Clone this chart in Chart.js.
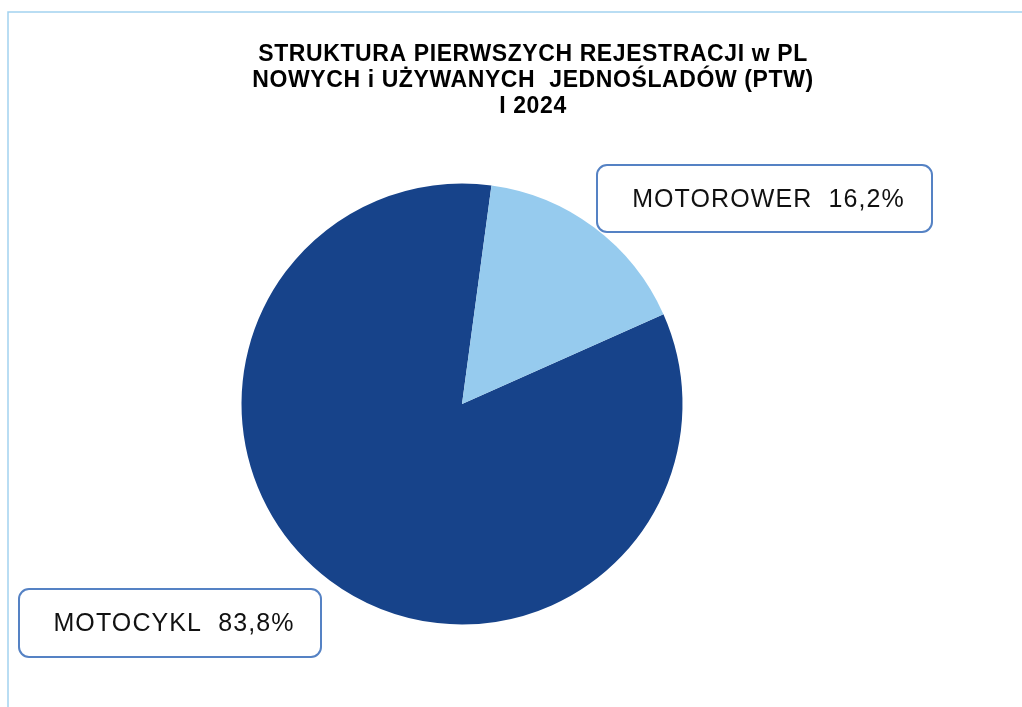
<!DOCTYPE html>
<html>
<head>
<meta charset="utf-8">
<script src="https://cdn.jsdelivr.net/npm/chart.js@4"></script>
<style>
  html, body { margin: 0; padding: 0; background: #fff; }
  #wrap { width: 1022px; height: 707px; }
</style>
</head>
<body>
<div id="wrap"><canvas id="pie"></canvas></div>
<script>
// data
var categories = ["MOTOCYKL", "MOTOROWER"];
var shares = [83.8, 16.2];
var titleLines = [
	"STRUKTURA PIERWSZYCH REJESTRACJI w PL",
	"NOWYCH i UŻYWANYCH  JEDNOŚLADÓW (PTW)",
	"I 2024"
];

var colors = ["#17438A", "#96CBEE"];

function fmt(v) {
	return v.toFixed(1).replace(".", ",") + "%";
}

// frame, title and the two callout boxes
var decorations = {
	id: "decorations",
	afterDraw(chart) {
		var ctx = chart.ctx;
		ctx.save();
		ctx.strokeStyle = "#A3D2F0";
		ctx.lineWidth = 1.5;
		ctx.beginPath();
		ctx.moveTo(8, 720);
		ctx.lineTo(8, 12);
		ctx.lineTo(1030, 12);
		ctx.stroke();

		ctx.fillStyle = "#000";
		ctx.font = "bold 23px 'Liberation Sans', Arial, sans-serif";
		ctx.letterSpacing = "0.6px";
		ctx.textAlign = "center";
		ctx.textBaseline = "alphabetic";
		var ty = [60.5, 87, 113];
		titleLines.forEach(function(t, i) {
			ctx.fillText(t, 533, ty[i]);
		});

		var boxes = chart.options.plugins.decorations.boxes;
		ctx.font = "25px 'Liberation Sans', Arial, sans-serif";
		ctx.letterSpacing = "1.1px";
		boxes.forEach(function(b) {
			ctx.beginPath();
			ctx.roundRect(b.x, b.y, b.w, b.h, 10);
			ctx.fillStyle = "#fff";
			ctx.fill();
			ctx.strokeStyle = "#5582C4";
			ctx.lineWidth = 2;
			ctx.stroke();
			var txt = categories[b.i] + "  " + fmt(shares[b.i]);
			ctx.fillStyle = "#111";
			ctx.textAlign = "center";
			ctx.fillText(txt, b.x + b.w / 2 + 4, b.base);
		});
		ctx.restore();
	}
};

new Chart(document.getElementById("pie"), {
	type: "pie",
	data: {
		labels: categories,
		datasets: [{
			data: shares,
			backgroundColor: colors,
			borderWidth: 0
		}]
	},
	options: {
		responsive: true,
		maintainAspectRatio: false,
		animation: false,
		rotation: 66,
		layout: {
			padding: { left: 241.5, right: 339.5, top: 183.5, bottom: 82.5 }
		},
		plugins: {
			legend: { display: false },
			title: { display: false },
			tooltip: { enabled: false },
			decorations: {
				boxes: [
					{ i: 1, x: 597, y: 165, w: 335, h: 67, base: 207 },
					{ i: 0, x: 19, y: 589, w: 302, h: 68, base: 631 }
				]
			}
		}
	},
	plugins: [decorations]
});
</script>
</body>
</html>
